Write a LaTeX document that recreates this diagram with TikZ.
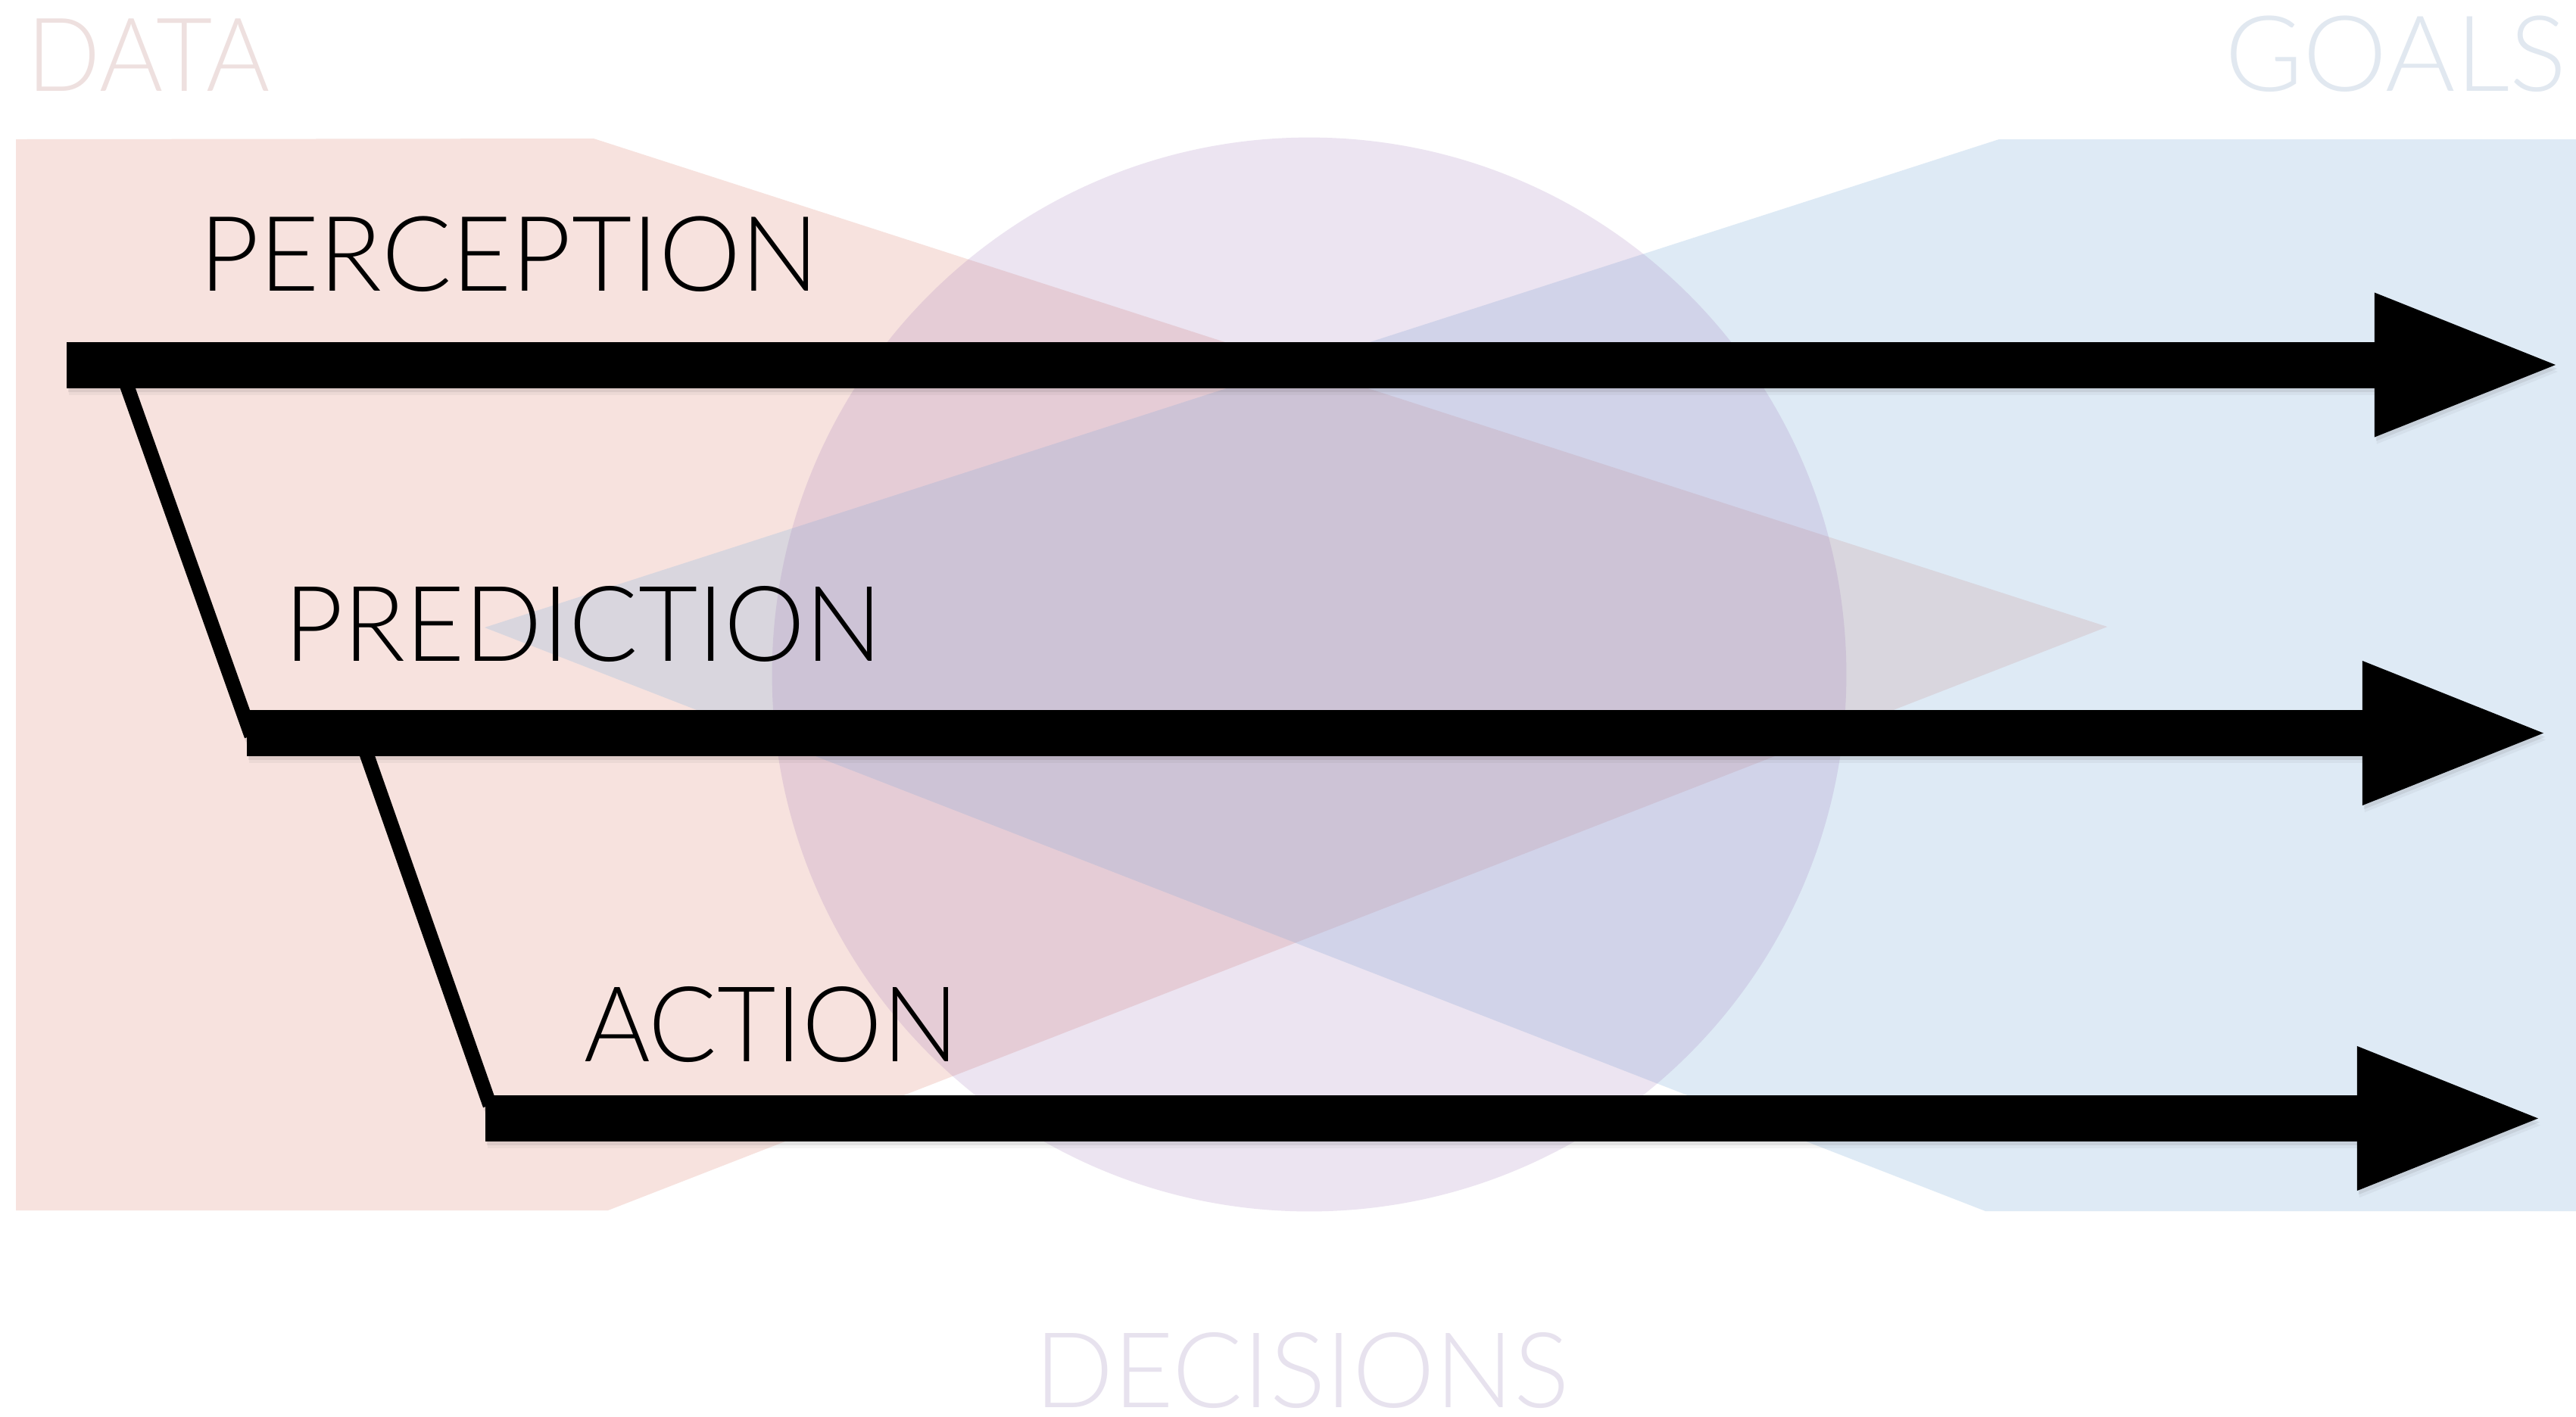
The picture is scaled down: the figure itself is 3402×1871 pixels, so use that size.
\documentclass[tikz,border=0pt]{standalone}
\usepackage{fontspec}
\IfFontExistsTF{Lato Light}{\setmainfont{Lato Light}}{%
  \IfFontExistsTF{Fira Sans Light}{\setmainfont{Fira Sans Light}}{%
    \IfFontExistsTF{Open Sans Light}{\setmainfont{Open Sans Light}}{%
      \setmainfont{TeX Gyre Heros}}}}
\usepackage{graphicx}
\usetikzlibrary{arrows.meta}
\definecolor{pinkfill}{HTML}{F7E2DE}
\definecolor{bluebase}{RGB}{148,188,225}
\definecolor{purplebase}{RGB}{160,120,185}
\definecolor{datacol}{HTML}{EEE0DF}
\definecolor{goalscol}{HTML}{E1E8F0}
\definecolor{deccol}{HTML}{E7E2EE}
\newcommand{\fitlabel}[3]{\resizebox{#1cm}{#2cm}{#3}}
\newcommand{\drawflows}[1]{%
  \draw[bigarrow,#1] (percS) -- (percE);
  \draw[bigarrow,#1] (predS) -- (predE);
  \draw[bigarrow,#1] (actS) -- (actE);
  \draw[linkline,#1] (lnkOneA) -- (lnkOneB);
  \draw[linkline,#1] (lnkTwoA) -- (lnkTwoB);}
\begin{document}
\begin{tikzpicture}[x=0.01cm,y=-0.01cm,
  lbl/.style={inner sep=0pt, outer sep=0pt, anchor=base west},
  bigarrow/.style={line width=0.61cm, line cap=butt, -{Triangle[length=2.39cm,width=1.91cm,line width=0pt]}},
  linkline/.style={line width=0.19cm, line cap=butt}]
\fill[white] (0,0) rectangle (3402,1871);
\useasboundingbox (0,0) rectangle (3402,1871);

% coloured areas
\fill[pinkfill] (21,184) -- (784,183) -- (2783,828) -- (803,1599) -- (21,1599) -- cycle;
\fill[bluebase, fill opacity=0.3] (2640,184) -- (3402,184) -- (3402,1600) -- (2622,1600) -- (640,829) -- cycle;
\fill[purplebase, fill opacity=0.2] (1729,891) circle[radius=7.09cm];

% faded titles
\node[lbl, text=datacol] (data) at (36,120.5) {\fitlabel{3.20}{0.956}{DATA}};
\node[lbl, text=goalscol] (goals) at (2938,120.5) {\fitlabel{4.51}{0.995}{GOALS}};
\node[lbl, text=deccol] (decisions) at (1366,1859) {\fitlabel{7.06}{0.99}{DECISIONS}};

% flow coordinates
\coordinate (percS) at (88,482);
\coordinate (percE) at (3375,482);
\coordinate (predS) at (326,968.5);
\coordinate (predE) at (3359,968.5);
\coordinate (actS) at (641,1477.5);
\coordinate (actE) at (3352,1477.5);
\coordinate (lnkOneA) at (166,505);
\coordinate (lnkOneB) at (332,972);
\coordinate (lnkTwoA) at (482,990);
\coordinate (lnkTwoB) at (647,1460);

% soft shadows
\begin{scope}[transform canvas={xshift=0.02cm,yshift=-0.05cm}]
  \drawflows{black!70, opacity=0.10}
\end{scope}
\begin{scope}[transform canvas={xshift=0.03cm,yshift=-0.09cm}]
  \drawflows{black!70, opacity=0.06}
\end{scope}

% flows
\drawflows{black}

% labels
\node[lbl] (perception) at (263,384.6) {\fitlabel{8.18}{0.986}{PERCEPTION}};
\node[lbl] (prediction) at (375,873) {\fitlabel{7.90}{0.99}{PREDICTION}};
\node[lbl] (action) at (771,1402) {\fitlabel{4.95}{0.99}{ACTION}};
\end{tikzpicture}
\end{document}
